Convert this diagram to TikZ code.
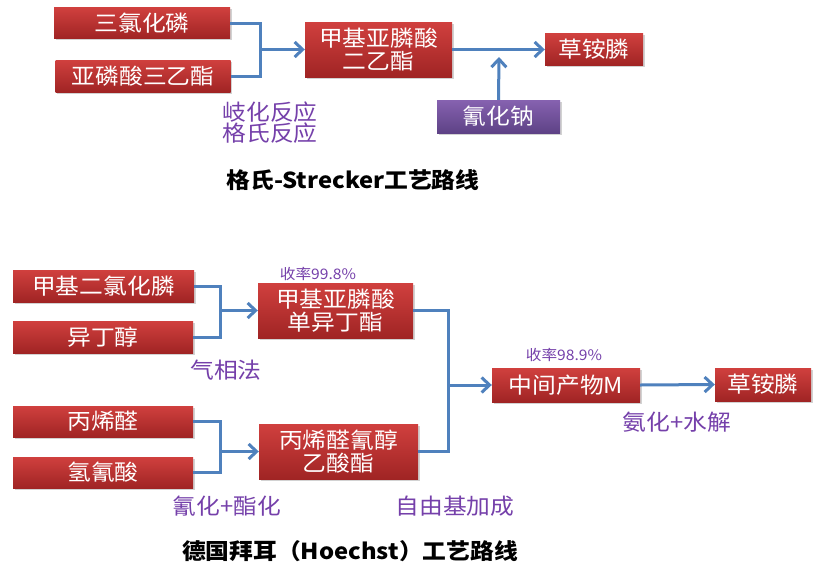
\documentclass[tikz,border=0pt]{standalone}
\usepackage{fontspec}
\newfontfamily\cjk{Noto Sans CJK SC}[FakeStretch=1.08]
\usetikzlibrary{arrows.meta,shadows}
\definecolor{redtop}{RGB}{208,64,62}
\definecolor{redbot}{RGB}{160,36,36}
\definecolor{purtop}{RGB}{134,98,176}
\definecolor{purbot}{RGB}{94,66,134}
\definecolor{linkblue}{RGB}{79,129,189}
\definecolor{labpurple}{RGB}{117,64,170}
\tikzset{
 box/.style={draw=none, top color=redtop, bottom color=redbot, text=white,
   font=\cjk\fontsize{22}{23}\selectfont, align=center, inner sep=0pt,
   drop shadow={shadow xshift=1.5pt, shadow yshift=-1.5pt, opacity=0.35}},
 pbox/.style={box, top color=purtop, bottom color=purbot},
 link/.style={draw=linkblue, line width=3pt},
 arr/.style={link, -{Straight Barb[length=8pt,width=15pt]}},
 lab/.style={text=labpurple, font=\cjk\fontsize{22}{21}\selectfont, align=center, inner sep=0pt},
 small/.style={text=labpurple, font=\cjk\fontsize{14.5}{16}\selectfont, inner sep=0pt},
 ttl/.style={font=\cjk\bfseries\fontsize{22}{24}\selectfont, inner sep=0pt},
}
\begin{document}
\begin{tikzpicture}[x=1pt,y=-1pt]
\useasboundingbox[fill=white] (0,0) rectangle (813,565);
% ---- top route
\node[box, minimum width=176pt, minimum height=31pt] (a1) at (142,23) {三氯化磷};
\node[box, minimum width=175pt, minimum height=32pt] (a2) at (143,76) {亚磷酸三乙酯};
\node[box, minimum width=147pt, minimum height=55pt] (a3) at (378.5,49.5) {甲基亚膦酸\\二乙酯};
\node[box, minimum width=98pt, minimum height=32pt] (a4) at (594,49.5) {草铵膦};
\node[pbox, minimum width=123pt, minimum height=33pt] (a5) at (498.5,116.5) {氰化钠};
\coordinate (j1) at (260,49.5);
\coordinate (n1) at (499,57);
\draw[link] (a1.east) -| (j1) |- (a2.east);
\draw[arr] (j1) -- (a3.west);
\draw[arr] (a3.east) -- (a4.west);
\draw[arr] (a5.north) -- (n1);
\node[lab] (l1) at (270,123) {岐化反应\\格氏反应};
\node[ttl] (t1) at (353,180) {格氏-Strecker工艺路线};
% ---- bottom route
\node[box, minimum width=181pt, minimum height=32pt] (b1) at (103.5,286) {甲基二氯化膦};
\node[box, minimum width=180pt, minimum height=32pt] (b2) at (103,337) {异丁醇};
\node[box, minimum width=155pt, minimum height=55pt] (b3) at (335.5,310.5) {甲基亚膦酸\\单异丁酯};
\node[box, minimum width=180pt, minimum height=31pt] (b4) at (103,421.5) {丙烯醛};
\node[box, minimum width=180pt, minimum height=31pt] (b5) at (103,472.5) {氢氰酸};
\node[box, minimum width=159pt, minimum height=55pt] (b6) at (338.5,451.5) {丙烯醛氰醇\\乙酸酯};
\node[box, minimum width=148pt, minimum height=34pt] (b7) at (566,385) {中间产物M};
\node[box, minimum width=96pt, minimum height=33pt] (b8) at (763,384.5) {草铵膦};
\coordinate (j2) at (220,310.5);
\coordinate (j3) at (220,451.5);
\coordinate (j4) at (448,385);
\draw[link] (b1.east) -| (j2) |- (b2.east);
\draw[arr] (j2) -- (b3.west);
\draw[link] (b4.east) -| (j3) |- (b5.east);
\draw[arr] (j3) -- (b6.west);
\draw[link] (b3.east) -| (j4) |- (b6.east);
\draw[arr] (j4) -- (b7.west);
\draw[arr] (b7.east) -- (b8.west);
\node[small] (s1) at (318,274) {收率99.8\%};
\node[small] (s2) at (564,355) {收率98.9\%};
\node[lab] (l2) at (226,370) {气相法};
\node[lab] (l3) at (227,506) {氰化+酯化};
\node[lab] (l4) at (455,506) {自由基加成};
\node[lab] (l5) at (677,422) {氨化+水解};
\node[ttl] (t2) at (350,551) {德国拜耳（Hoechst）工艺路线};
\end{tikzpicture}
\end{document}
